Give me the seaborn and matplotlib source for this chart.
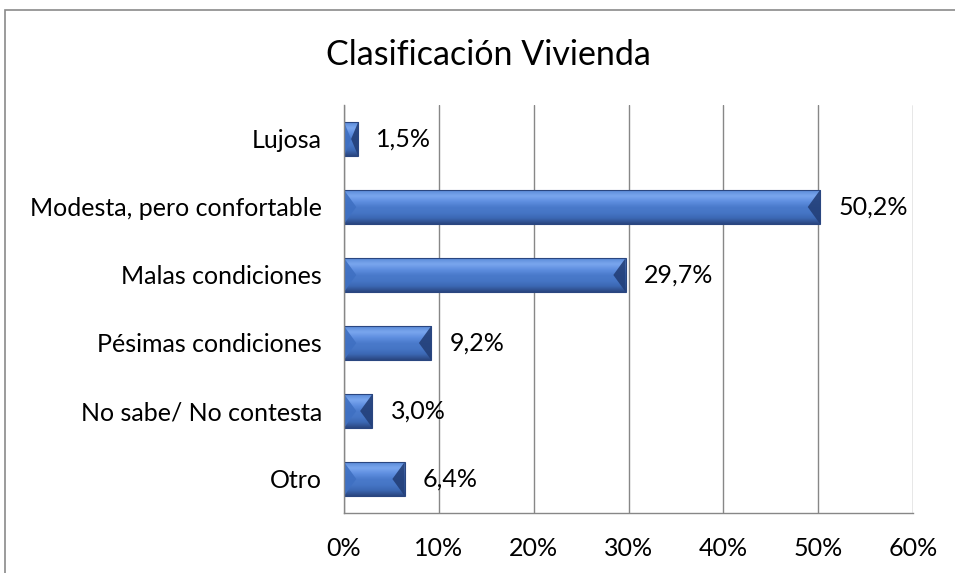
import numpy as np
import pandas as pd
import matplotlib
matplotlib.use("Agg")
import matplotlib.pyplot as plt
import seaborn as sns
from matplotlib.patches import Rectangle, Polygon
from matplotlib.colors import LinearSegmentedColormap

categories = ["Lujosa", "Modesta, pero confortable", "Malas condiciones",
              "Pésimas condiciones", "No sabe/ No contesta", "Otro"]
values = [1.5, 50.2, 29.7, 9.2, 3.0, 6.4]
value_labels = ["1,5%", "50,2%", "29,7%", "9,2%", "3,0%", "6,4%"]
xticks = [0, 10, 20, 30, 40, 50, 60]
xtick_labels = ["0%", "10%", "20%", "30%", "40%", "50%", "60%"]
title = "Clasificación Vivienda"

df = pd.DataFrame({"cat": categories, "val": values})

sns.set_theme(style="white")
plt.rcParams["font.family"] = ["Lato", "DejaVu Sans"]

fig = plt.figure(figsize=(9.55, 5.73), dpi=100)
ax = fig.add_axes([344/955, 1-513/573, (913-344)/955, (513-105)/573])

sns.barplot(data=df, x="val", y="cat", ax=ax, color="#4a78c8", width=0.5,
            saturation=1, edgecolor="none", orient="h")

ax.set_xlim(0, 60)
ax.set_xticks(xticks)
ax.set_xticklabels(xtick_labels, fontsize=18, color="#000000")
ax.set_ylabel("")
ax.set_xlabel("")
ax.tick_params(axis="y", labelsize=18, colors="#000000", length=0, pad=16)
ax.tick_params(axis="x", length=0, pad=17)
ax.grid(axis="x", color="#878787", linewidth=1)
ax.set_axisbelow(True)
for s in ["top", "right"]:
    ax.spines[s].set_visible(False)
for s in ["left", "bottom"]:
    ax.spines[s].set_color("#878787")
    ax.spines[s].set_linewidth(1)

# bevel effect built from each bar's own geometry
grad = np.linspace(0, 1, 64).reshape(-1, 1)
cmap = LinearSegmentedColormap.from_list(
    "bev", ["#5a8ad8", "#7aa6ee", "#5f8fe0", "#4a7acb", "#4676c6", "#3c68b4", "#2a4680"])
for p, lab in zip(ax.patches, value_labels):
    x0, y0 = p.get_x(), p.get_y()
    w, h = p.get_width(), p.get_height()
    im = ax.imshow(grad, extent=[x0, x0 + w, y0 + h, y0], aspect="auto",
                   cmap=cmap, zorder=p.get_zorder() + 0.1, interpolation="bicubic")
    im.set_clip_path(p)
    cap = min(w / 2, 1.3)
    ym = y0 + h / 2
    ax.add_patch(Polygon([[x0, y0], [x0 + cap, ym], [x0, y0 + h]],
                         closed=True, facecolor="#3f70c2", edgecolor="none",
                         alpha=0.9, zorder=p.get_zorder() + 0.2))
    ax.add_patch(Polygon([[x0 + w, y0], [x0 + w - cap, ym], [x0 + w, y0 + h]],
                         closed=True, facecolor="#233f78", edgecolor="none",
                         alpha=0.9, zorder=p.get_zorder() + 0.2))
    ax.add_patch(Rectangle((x0, y0), w, h, facecolor="none", edgecolor="#2a4680",
                           linewidth=0.8, zorder=p.get_zorder() + 0.3))
    ax.annotate(lab, xy=(x0 + w, ym), xytext=(13, 0), textcoords="offset points",
                va="center", ha="left", fontsize=18, color="#000000")
ax.set_ylim(5.5, -0.5)
ax.set_xlim(0, 60)

fig.text(488/955, 1-55/573, title, ha="center", va="center", fontsize=24.5, color="#000000")

fig.add_artist(Rectangle((5/955, -0.1), 1.2, 1 - 10/573 + 0.1, transform=fig.transFigure,
                         facecolor="none", edgecolor="#8a8a8a", linewidth=1.2))

fig.savefig("out.png", dpi=100, facecolor="white")
